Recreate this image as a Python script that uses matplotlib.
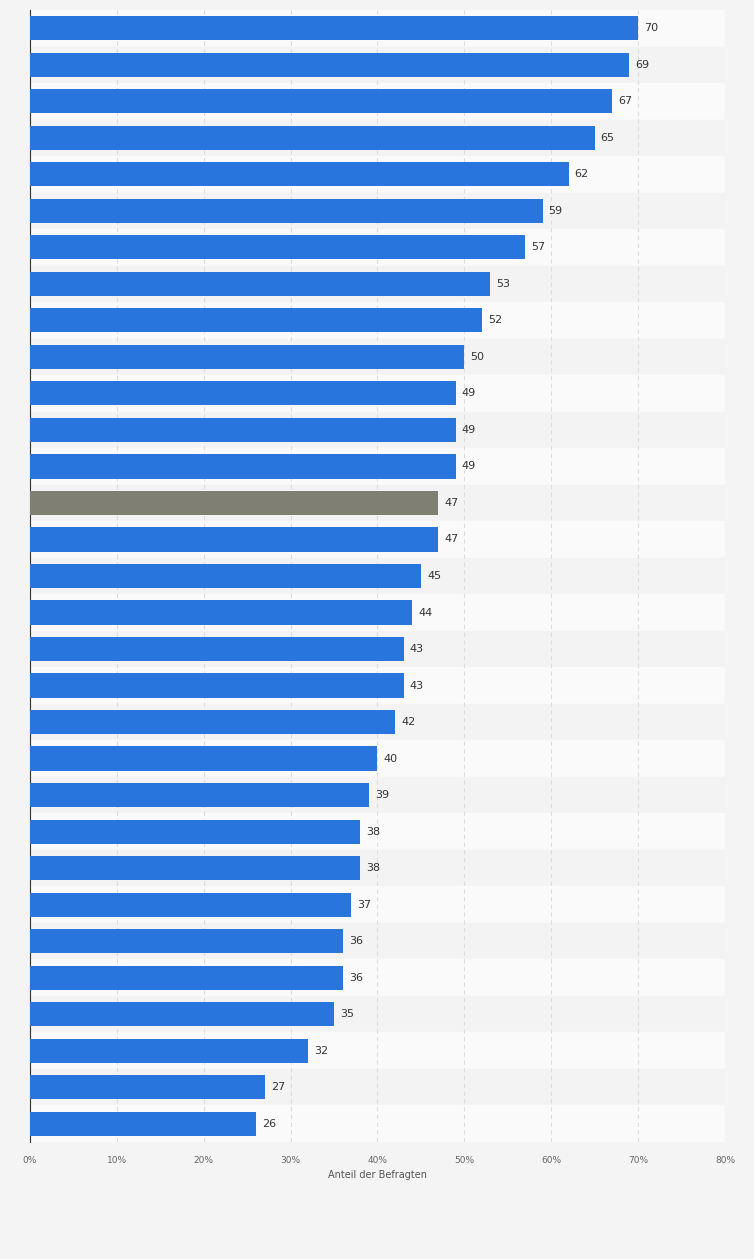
import matplotlib.pyplot as plt
import numpy as np

values = [70, 69, 67, 65, 62, 59, 57, 53, 52, 50, 49, 49, 49, 47, 47, 45, 44,
          43, 43, 42, 40, 39, 38, 38, 37, 36, 36, 35, 32, 27, 26]
highlight_index = 13
x_ticks = [0, 10, 20, 30, 40, 50, 60, 70, 80]
x_tick_labels = [f"{t}%" for t in x_ticks]

BLUE = "#2876dd"
GRAY = "#7f7f74"

fig = plt.figure(figsize=(7.54, 12.59), dpi=100, facecolor="#f4f4f4")
ax = fig.add_axes([0.0398, 0.093, 0.9217, 0.899])
ax.set_facecolor("#f4f4f4")

n = len(values)
y = np.arange(n)
for i in range(n):
    ax.axhspan(i - 0.5, i + 0.5, color="#fafafa" if i % 2 == 0 else "#f3f3f3", zorder=0)

colors = [GRAY if i == highlight_index else BLUE for i in range(n)]
ax.barh(y, values, height=0.66, color=colors, zorder=3)
for yi, v in zip(y, values):
    ax.text(v + 0.7, yi, str(v), va="center", ha="left", fontsize=8, color="#333333", zorder=4)

ax.set_xlim(0, 80)
ax.set_ylim(n - 0.5, -0.5)
ax.set_yticks([])
ax.set_xticks(x_ticks)
ax.set_xticklabels(x_tick_labels, fontsize=6.5, color="#666666")
ax.tick_params(axis="x", length=0, pad=10)
ax.grid(axis="x", color="#dddddd", linestyle=(0, (4, 3)), linewidth=0.8, zorder=1)
for s in ["top", "right", "bottom"]:
    ax.spines[s].set_visible(False)
ax.spines["left"].set_color("#333333")
ax.set_xlabel("Anteil der Befragten", fontsize=7, color="#555555", labelpad=4)

fig.savefig("out.png", dpi=100, facecolor=fig.get_facecolor())
